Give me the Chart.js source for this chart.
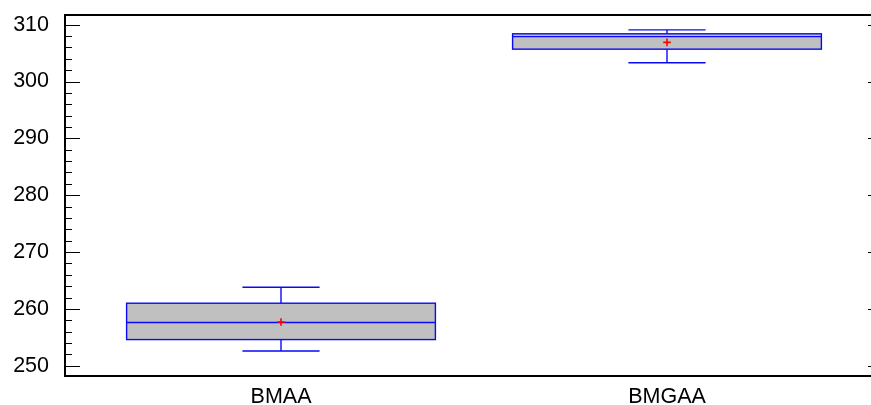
<!DOCTYPE html>
<html>
<head>
<meta charset="utf-8">
<script src="https://cdn.jsdelivr.net/npm/chart.js@4/dist/chart.umd.min.js"></script>
<style>
  html, body { margin: 0; padding: 0; overflow: hidden; background: #ffffff; }
  canvas { display: block; }
</style>
</head>
<body>
<canvas id="chart" width="900" height="405" style="width:900px;height:405px"></canvas>
<script>
// Box-and-whisker summary per group
const categories   = ['BMAA', 'BMGAA'];
const whiskerLow   = [252.6, 303.3];
const quartile1    = [254.6, 305.7];
const medians      = [257.6, 307.9];
const quartile3    = [261.0, 308.4];
const whiskerHigh  = [263.8, 309.1];
const means        = [257.7, 306.9];
const yTicks       = [250, 260, 270, 280, 290, 300, 310];
const yMinorStep   = 2;

// Geometry (in x-axis units, one unit per group)
const BOX_HALF = 0.4;
const CAP_HALF = 0.1;

const FONT = { family: "'Liberation Sans', Arial, sans-serif", size: 21.5 };
const BOX_FILL = '#c0c0c0';
const BOX_LINE = '#0a0af5';

const boxPlot = {
  id: 'boxPlot',
  beforeDatasetsDraw(chart) {
    const { ctx, scales: { x, y } } = chart;
    ctx.save();
    ctx.lineWidth = 1.4;
    ctx.strokeStyle = BOX_LINE;
    categories.forEach((c, i) => {
      const pos = i + 1;
      const xc = x.getPixelForValue(pos);
      const xl = x.getPixelForValue(pos - BOX_HALF);
      const xr = x.getPixelForValue(pos + BOX_HALF);
      const cl = x.getPixelForValue(pos - CAP_HALF);
      const cr = x.getPixelForValue(pos + CAP_HALF);
      const yLo = y.getPixelForValue(whiskerLow[i]);
      const yQ1 = y.getPixelForValue(quartile1[i]);
      const yMed = y.getPixelForValue(medians[i]);
      const yQ3 = y.getPixelForValue(quartile3[i]);
      const yHi = y.getPixelForValue(whiskerHigh[i]);

      // box
      ctx.fillStyle = BOX_FILL;
      ctx.fillRect(xl, yQ3, xr - xl, yQ1 - yQ3);
      ctx.strokeRect(xl, yQ3, xr - xl, yQ1 - yQ3);

      ctx.beginPath();
      // median
      ctx.moveTo(xl, yMed); ctx.lineTo(xr, yMed);
      // whiskers
      ctx.moveTo(xc, yQ3); ctx.lineTo(xc, yHi);
      ctx.moveTo(xc, yQ1); ctx.lineTo(xc, yLo);
      // caps
      ctx.moveTo(cl, yHi); ctx.lineTo(cr, yHi);
      ctx.moveTo(cl, yLo); ctx.lineTo(cr, yLo);
      ctx.stroke();
    });
    ctx.restore();
  },
  afterDraw(chart) {
    const { ctx, chartArea: a, scales: { y } } = chart;
    ctx.save();
    // frame
    ctx.strokeStyle = '#000000';
    ctx.lineWidth = 2;
    ctx.strokeRect(a.left, a.top, a.right - a.left, a.bottom - a.top);
    // inward ticks on both vertical sides
    ctx.lineWidth = 1.2;
    ctx.beginPath();
    const first = yTicks[0], last = yTicks[yTicks.length - 1];
    for (let v = first; v <= last; v += yMinorStep) {
      const major = yTicks.includes(v);
      const len = major ? 15 : 7;
      const py = Math.round(y.getPixelForValue(v)) + 0.5;
      ctx.moveTo(a.left, py); ctx.lineTo(a.left + len, py);
      ctx.moveTo(a.right, py); ctx.lineTo(a.right - len, py);
    }
    ctx.stroke();
    ctx.restore();
  }
};

new Chart(document.getElementById('chart'), {
  type: 'scatter',
  data: {
    datasets: [{
      label: 'Mean',
      data: means.map((m, i) => ({ x: i + 1, y: m })),
      pointStyle: 'cross',
      radius: 3.8,
      borderColor: '#ff0000',
      backgroundColor: '#ff0000',
      borderWidth: 1.6
    }]
  },
  options: {
    responsive: false,
    animation: false,
    devicePixelRatio: 1,
    layout: { padding: { top: 15, right: 17, left: 0, bottom: 0 } },
    plugins: { legend: { display: false }, tooltip: { enabled: false } },
    scales: {
      x: {
        type: 'linear',
        min: 0.4404,
        max: 2.5596,
        grid: { display: false, drawTicks: false },
        border: { display: false },
        afterBuildTicks: s => { s.ticks = categories.map((c, i) => ({ value: i + 1 })); },
        afterFit: s => { s.height = 29; s.paddingLeft = 0; s.paddingRight = 0; },
        ticks: {
          callback: v => categories[v - 1] ?? '',
          autoSkip: false,
          maxRotation: 0,
          padding: 8,
          color: '#000000',
          font: FONT
        }
      },
      y: {
        min: 248.19,
        max: 311.71,
        grid: { display: false, drawTicks: false },
        border: { display: false },
        afterBuildTicks: s => { s.ticks = yTicks.map(v => ({ value: v })); },
        afterFit: s => { s.width = 65; s.paddingTop = 0; s.paddingBottom = 0; },
        ticks: {
          padding: 16,
          color: '#000000',
          font: FONT
        }
      }
    }
  },
  plugins: [boxPlot]
});
</script>
</body>
</html>
